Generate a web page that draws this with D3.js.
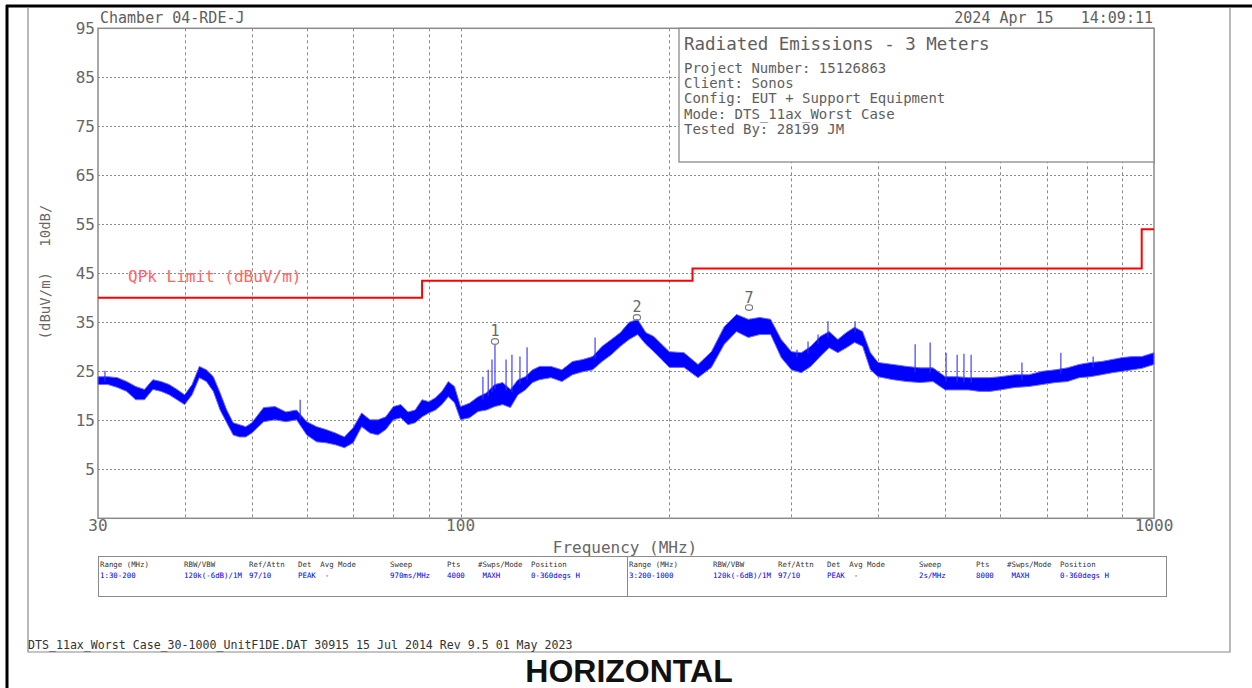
<!DOCTYPE html>
<html>
<head>
<meta charset="utf-8">
<script src="https://cdn.jsdelivr.net/npm/d3@7/dist/d3.min.js"></script>
<style>
  body { margin: 0; background: #fff; }
  svg { display: block; }
  text { font-family: "DejaVu Sans Mono", monospace; }
</style>
</head>
<body>
<svg id="chart" width="1252" height="688"></svg>
<script>
// Swept peak trace: sample frequencies (MHz) with upper / lower envelope (dBuV/m)
const traceFreq = [30,31,32,33,34,35,36,37,38,39,40,41,42,43,44,45,46,47,48,49,50,52,54,56,58,60,62,64,66,68,70,72,74,76,78,80,82,84,86,88,90,92,94,96,98,100,103,106,109,112,115,118,121,124,127,130,135,140,145,150,155,160,165,170,175,180,185,190,195,200,210,220,230,240,250,260,270,280,290,300,310,320,330,340,350,360,370,380,390,400,420,440,460,480,500,520,540,560,580,600,630,660,690,720,750,780,810,840,870,900,930,960,1000];
const traceHigh = [23.9,23.9,23.7,22.9,21.9,21.3,23.3,22.9,22.3,21.3,20.2,22.3,26.0,25.3,23.9,20.6,17.1,14.5,14.1,13.7,14.5,17.6,17.8,16.7,17.1,14.7,13.7,13.1,12.4,11.6,13.5,16.5,15.1,15.1,15.7,17.8,18.2,16.7,17.1,19.2,18.8,19.6,20.9,22.9,21.9,17.8,18.5,19.8,20.6,22.3,22.7,21.3,23.3,23.9,25.3,26.0,26.0,25.3,27.0,27.4,28.0,30.1,31.5,32.9,35.0,35.6,32.9,32.1,30.5,29.0,28.8,26.4,29.0,34.1,36.6,35.6,36.0,35.6,31.5,29.0,28.8,30.1,32.1,33.1,31.5,32.9,34.0,33.1,28.8,26.8,26.4,26.0,25.7,25.7,23.9,23.9,23.7,23.7,23.7,23.9,24.3,24.3,25.0,25.3,25.7,26.4,26.8,27.0,27.4,27.8,28.0,28.0,28.8];
const traceLow = [22.3,22.3,21.7,20.9,19.2,19.2,21.3,20.9,20.2,19.2,18.2,20.2,23.7,22.9,20.9,17.1,14.5,12.0,11.6,11.6,12.4,14.7,15.1,14.7,15.1,12.0,10.6,10.4,10.0,9.4,10.4,13.7,12.4,12.0,13.1,15.1,15.5,14.1,14.5,15.7,16.5,17.1,18.2,19.8,18.6,15.1,15.5,16.8,17.1,17.8,18.2,17.6,20.2,21.2,22.7,23.3,23.7,22.9,24.3,24.9,25.3,27.0,28.4,30.1,31.5,32.5,30.5,29.0,27.4,25.8,25.8,23.7,25.8,30.5,33.1,31.9,32.5,32.5,27.8,25.3,24.7,26.0,28.0,29.8,28.8,29.8,30.9,30.1,25.3,23.9,23.3,22.9,22.7,22.9,21.2,21.2,21.2,20.9,20.9,21.2,21.7,21.9,22.3,22.7,22.9,23.7,23.9,24.3,24.7,25.0,25.3,25.6,26.4];

// Narrow emissions rising above the trace (MHz, dBuV/m)
const spikeFreq = [30.7,58.7,107.7,109.6,111.0,112.1,116.3,118.6,121.8,124.7,156.3,305.6,317.0,327.7,338.7,370.6,452.4,475.5,501.3,520.1,532,544.8,645,734,817];
const spikeLevel = [25.1,19.2,23.9,25.3,27.4,30.5,27.4,28.4,28.0,29.9,31.9,29.4,31.1,32.5,35.2,35.2,30.5,30.9,28.8,28.4,28.6,28.4,26.8,28.8,28.0];

// Quasi-peak limit: band edges (MHz) and level in each band (dBuV/m)
const limitEdges = [30, 88, 216, 960, 1000];
const limitLevels = [40, 43.5, 46, 54];

// Peak markers
const markerIds = ["1", "2", "7"];
const markerFreq = [112.1, 179.6, 260.6];
const markerLevel = [31.1, 36.0, 38.0];

// Axes
const xTickLabels = [30, 100, 1000];
const xGridFreq = [40, 50, 60, 70, 80, 90, 100, 200, 300, 400, 500, 600, 700, 800, 900];
const yTickLabels = [95, 85, 75, 65, 55, 45, 35, 25, 15, 5];
const yGridLevels = [85, 75, 65, 55, 45, 35, 25, 15, 5];

// Header / info box / settings table text
const headerLeft = "Chamber 04-RDE-J";
const headerRight = "2024 Apr 15   14:09:11";
const infoTitle = "Radiated Emissions - 3 Meters";
const infoLines = ["Project Number: 15126863", "Client: Sonos", "Config: EUT + Support Equipment", "Mode: DTS_11ax_Worst Case", "Tested By: 28199 JM"];
const tableHeads = ["Range (MHz)", "RBW/VBW", "Ref/Attn", "Det  Avg Mode", "Sweep", "Pts", "#Swps/Mode", "Position"];
const tableRange1 = ["1:30-200", "120k(-6dB)/1M", "97/10", "PEAK  -", "970ms/MHz", "4000", " MAXH", "0-360degs H"];
const tableRange2 = ["3:200-1000", "120k(-6dB)/1M", "97/10", "PEAK  -", "2s/MHz", "8000", " MAXH", "0-360degs H"];
const footerText = "DTS_11ax_Worst Case_30-1000_UnitF1DE.DAT 30915 15 Jul 2014 Rev 9.5 01 May 2023";
const polarization = "HORIZONTAL";

const svg = d3.select("#chart");
const W = 1252, H = 688;
const plot = { left: 98, right: 1154, top: 28.3, bottom: 518.3 };

const x = d3.scaleLog().domain([30, 1000]).range([plot.left, plot.right]);
const y = d3.scaleLinear().domain([-5, 95]).range([plot.bottom, plot.top]);

const gray = "#8a8a8a";
const textGray = "#5e5e5e";

// page frame
svg.append("line").attr("x1", 6).attr("x2", W).attr("y1", 6).attr("y2", 6)
  .attr("stroke", "#000").attr("stroke-width", 3);
svg.append("line").attr("x1", 7).attr("x2", 7).attr("y1", 5).attr("y2", H)
  .attr("stroke", "#000").attr("stroke-width", 3);
svg.append("path").attr("d", `M28,7V652H1230V7`).attr("fill", "none")
  .attr("stroke", gray).attr("stroke-width", 1.2);

// grid
const grid = svg.append("g");
grid.selectAll("line.h").data(yGridLevels).join("line")
  .attr("x1", plot.left).attr("x2", plot.right)
  .attr("y1", d => Math.round(y(d)) + 0.5).attr("y2", d => Math.round(y(d)) + 0.5)
  .attr("stroke", "#8c8c8c").attr("stroke-width", 1).attr("stroke-dasharray", "2,2");
grid.selectAll("line.v").data(xGridFreq).join("line")
  .attr("x1", d => Math.round(x(d)) + 0.5).attr("x2", d => Math.round(x(d)) + 0.5)
  .attr("y1", plot.top).attr("y2", plot.bottom)
  .attr("stroke", "#8c8c8c").attr("stroke-width", 1).attr("stroke-dasharray", "3,3");

// plot border
svg.append("rect").attr("x", plot.left).attr("y", plot.top)
  .attr("width", plot.right - plot.left).attr("height", plot.bottom - plot.top)
  .attr("fill", "none").attr("stroke", gray).attr("stroke-width", 1.5);

// info box
const boxX = 679, boxY = plot.top, boxW = plot.right - 679, boxH = 162 - plot.top;
svg.append("rect").attr("x", boxX).attr("y", boxY).attr("width", boxW).attr("height", boxH)
  .attr("fill", "#fff").attr("stroke", gray).attr("stroke-width", 1.3);
svg.append("text").attr("x", 684).attr("y", 50).attr("font-size", 17.5)
  .attr("fill", textGray).text(infoTitle);
svg.selectAll("text.info").data(infoLines).join("text")
  .attr("x", 684).attr("y", (d, i) => 73 + i * 15.2).attr("font-size", 14)
  .attr("fill", textGray).text(d => d);

// limit line
const limitPts = [];
limitLevels.forEach((lv, i) => {
  limitPts.push([limitEdges[i], lv]);
  limitPts.push([limitEdges[i + 1], lv]);
});
svg.append("path")
  .attr("d", d3.line().x(d => x(d[0])).y(d => y(d[1]))(limitPts))
  .attr("fill", "none").attr("stroke", "#ff0000").attr("stroke-width", 2);
svg.append("text").attr("x", 128).attr("y", 282).attr("font-size", 16)
  .attr("fill", "#ff6464").text("QPk Limit (dBuV/m)");

// trace envelope
const trace = traceFreq.map((f, i) => ({ f, hi: traceHigh[i], lo: traceLow[i] }));
svg.append("path")
  .attr("d", d3.area().x(d => x(d.f)).y0(d => y(d.lo)).y1(d => y(d.hi))(trace))
  .attr("fill", "#0000ff").attr("stroke", "#6a6aff").attr("stroke-width", 1)
  .attr("stroke-linejoin", "round");

// spikes above the trace
const hiAt = f => {
  const i = d3.bisector(d => d.f).left(trace, f);
  if (i <= 0) return trace[0].hi;
  if (i >= trace.length) return trace[trace.length - 1].hi;
  const a = trace[i - 1], b = trace[i];
  const t = (Math.log(f) - Math.log(a.f)) / (Math.log(b.f) - Math.log(a.f));
  return a.hi + t * (b.hi - a.hi);
};
svg.selectAll("line.spike").data(spikeFreq).join("line")
  .attr("x1", d => x(d)).attr("x2", d => x(d))
  .attr("y1", d => y(hiAt(d) - 1)).attr("y2", (d, i) => y(spikeLevel[i]))
  .attr("stroke", "#3030ff").attr("stroke-width", 1.1);

// markers
markerIds.forEach((id, i) => {
  const mx = x(markerFreq[i]), my = y(markerLevel[i]);
  svg.append("ellipse").attr("cx", mx).attr("cy", my).attr("rx", 3.6).attr("ry", 2.8)
    .attr("fill", "none").attr("stroke", "#777").attr("stroke-width", 1.1);
  svg.append("text").attr("x", mx).attr("y", my - 5).attr("text-anchor", "middle")
    .attr("font-size", 15).attr("fill", "#666").text(id);
});

// axis labels
svg.selectAll("text.yt").data(yTickLabels).join("text")
  .attr("x", 95).attr("y", d => y(d) + 6).attr("text-anchor", "end")
  .attr("font-size", 16).attr("fill", "#666").text(d => d);
svg.selectAll("text.xt").data(xTickLabels).join("text")
  .attr("x", d => x(d)).attr("y", 531).attr("text-anchor", "middle")
  .attr("font-size", 16).attr("fill", "#666").text(d => d);
svg.append("text").attr("x", 625).attr("y", 553).attr("text-anchor", "middle")
  .attr("font-size", 16).attr("fill", "#666").text("Frequency (MHz)");
svg.append("text").attr("transform", "translate(50,272) rotate(-90)")
  .attr("text-anchor", "middle").attr("font-size", 14).attr("fill", "#666")
  .style("white-space", "pre").text("(dBuV/m)   10dB/");

// header
svg.append("text").attr("x", 100).attr("y", 23).attr("font-size", 15)
  .attr("fill", textGray).text(headerLeft);
svg.append("text").attr("x", 1153).attr("y", 23).attr("text-anchor", "end")
  .attr("font-size", 15).style("white-space", "pre")
  .attr("fill", textGray).text(headerRight);

// sweep settings table
svg.append("rect").attr("x", 98.5).attr("y", 556.5).attr("width", 1068).attr("height", 40)
  .attr("fill", "none").attr("stroke", gray).attr("stroke-width", 1);
svg.append("line").attr("x1", 627.5).attr("x2", 627.5).attr("y1", 556.5).attr("y2", 596.5)
  .attr("stroke", gray).attr("stroke-width", 1);
const colOffsets = [0, 84, 149, 198, 290, 347, 378, 431];
[[100, tableRange1], [629, tableRange2]].forEach(([x0, vals]) => {
  tableHeads.forEach((h, i) => {
    svg.append("text").attr("x", x0 + colOffsets[i]).attr("y", 567).attr("font-size", 7.4)
      .style("white-space", "pre").attr("fill", "#333").text(h);
    svg.append("text").attr("x", x0 + colOffsets[i]).attr("y", 578).attr("font-size", 7.4)
      .style("white-space", "pre").attr("fill", "#0000e0").text(vals[i]);
  });
});

// footer
svg.append("text").attr("x", 28).attr("y", 649).attr("font-size", 11.6)
  .attr("fill", "#333").text(footerText);
svg.append("text").attr("x", 629).attr("y", 682).attr("text-anchor", "middle")
  .style("font-family", "'Liberation Sans', Arial, sans-serif").attr("font-weight", "bold")
  .attr("font-size", 32).attr("fill", "#111").text(polarization);
</script>
</body>
</html>
